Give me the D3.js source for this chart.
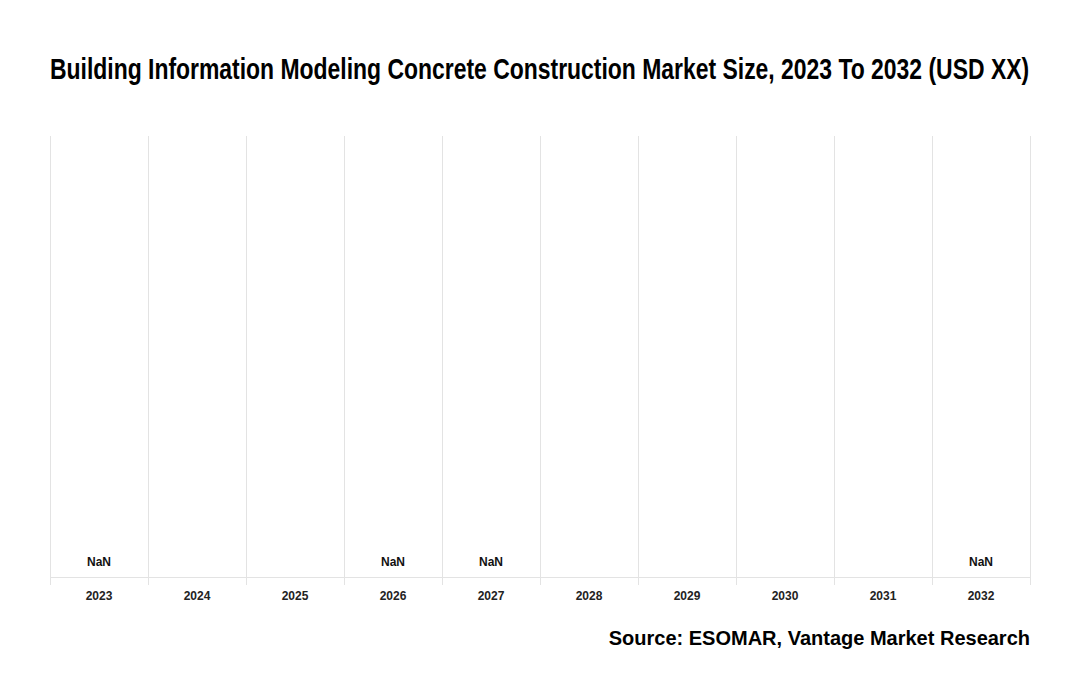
<!DOCTYPE html>
<html>
<head>
<meta charset="utf-8">
<script src="https://cdn.jsdelivr.net/npm/d3@7"></script>
<style>
  body { margin: 0; background: #fff; }
</style>
</head>
<body>
<div id="chart"></div>
<script>
const years = ["2023", "2024", "2025", "2026", "2027", "2028", "2029", "2030", "2031", "2032"];
// the source shows "NaN" labels where a value exists but could not be computed
const values = [NaN, null, null, NaN, NaN, null, null, null, null, NaN];

const width = 1080, height = 700;
const margin = {top: 136, right: 50, bottom: 123, left: 50};

const svg = d3.select("#chart").append("svg")
    .attr("width", width)
    .attr("height", height);

// condensed title: no narrow font installed, so scale it horizontally to fit
const title = svg.append("text")
    .style("font", "bold 29px 'Liberation Sans', Arial, sans-serif")
    .attr("fill", "#000")
    .text("Building Information Modeling Concrete Construction Market Size, 2023 To 2032 (USD XX)");
const titleLen = title.node().getComputedTextLength();
const sx = (width - margin.left - margin.right) / titleLen;
title.attr("transform", `translate(${margin.left},79) scale(${sx},1)`);

const x = d3.scaleBand()
    .domain(years)
    .range([margin.left, width - margin.right])
    .padding(0);

const y = d3.scaleLinear()
    .domain([0, 1])
    .range([height - margin.bottom, margin.top]);

// vertical grid lines at band edges
const edges = years.map(d => x(d)).concat([x.range()[1]]);
svg.append("g")
    .selectAll("line")
    .data(edges)
    .join("line")
    .attr("x1", d => d + 0.5)
    .attr("x2", d => d + 0.5)
    .attr("y1", margin.top)
    .attr("y2", height - margin.bottom + 8)
    .attr("stroke", "#e3e3e3")
    .attr("stroke-width", 1);

// baseline
svg.append("line")
    .attr("x1", margin.left)
    .attr("x2", width - margin.right)
    .attr("y1", y(0) + 0.5)
    .attr("y2", y(0) + 0.5)
    .attr("stroke", "#e3e3e3");

// bars (all zero height here)
svg.append("g")
    .selectAll("rect")
    .data(years)
    .join("rect")
    .attr("x", d => x(d) + 10)
    .attr("width", x.bandwidth() - 20)
    .attr("y", (d, i) => y(values[i] || 0))
    .attr("height", (d, i) => y(0) - y(values[i] || 0))
    .attr("fill", "#1f4e79");

// value labels
svg.append("g")
    .selectAll("text")
    .data(years.map((d, i) => ({year: d, v: values[i]})).filter(d => d.v !== null))
    .join("text")
    .attr("x", d => x(d.year) + x.bandwidth() / 2)
    .attr("y", d => y(d.v || 0) - 11)
    .attr("text-anchor", "middle")
    .style("font", "bold 12px 'Liberation Sans', Arial, sans-serif")
    .attr("fill", "#111")
    .text(d => d3.format(",.0f")(d.v));

// x axis labels
const xAxis = d3.axisBottom(x).tickSize(0).tickPadding(14);
const gx = svg.append("g")
    .attr("transform", `translate(0,${y(0)})`)
    .call(xAxis);
gx.select(".domain").remove();
gx.selectAll("text")
    .style("font", "bold 12px 'Liberation Sans', Arial, sans-serif")
    .attr("fill", "#222");

svg.append("text")
    .attr("x", width - margin.right)
    .attr("y", 645)
    .attr("text-anchor", "end")
    .style("font", "bold 20px 'Liberation Sans', Arial, sans-serif")
    .attr("fill", "#000")
    .text("Source: ESOMAR, Vantage Market Research");
</script>
</body>
</html>
